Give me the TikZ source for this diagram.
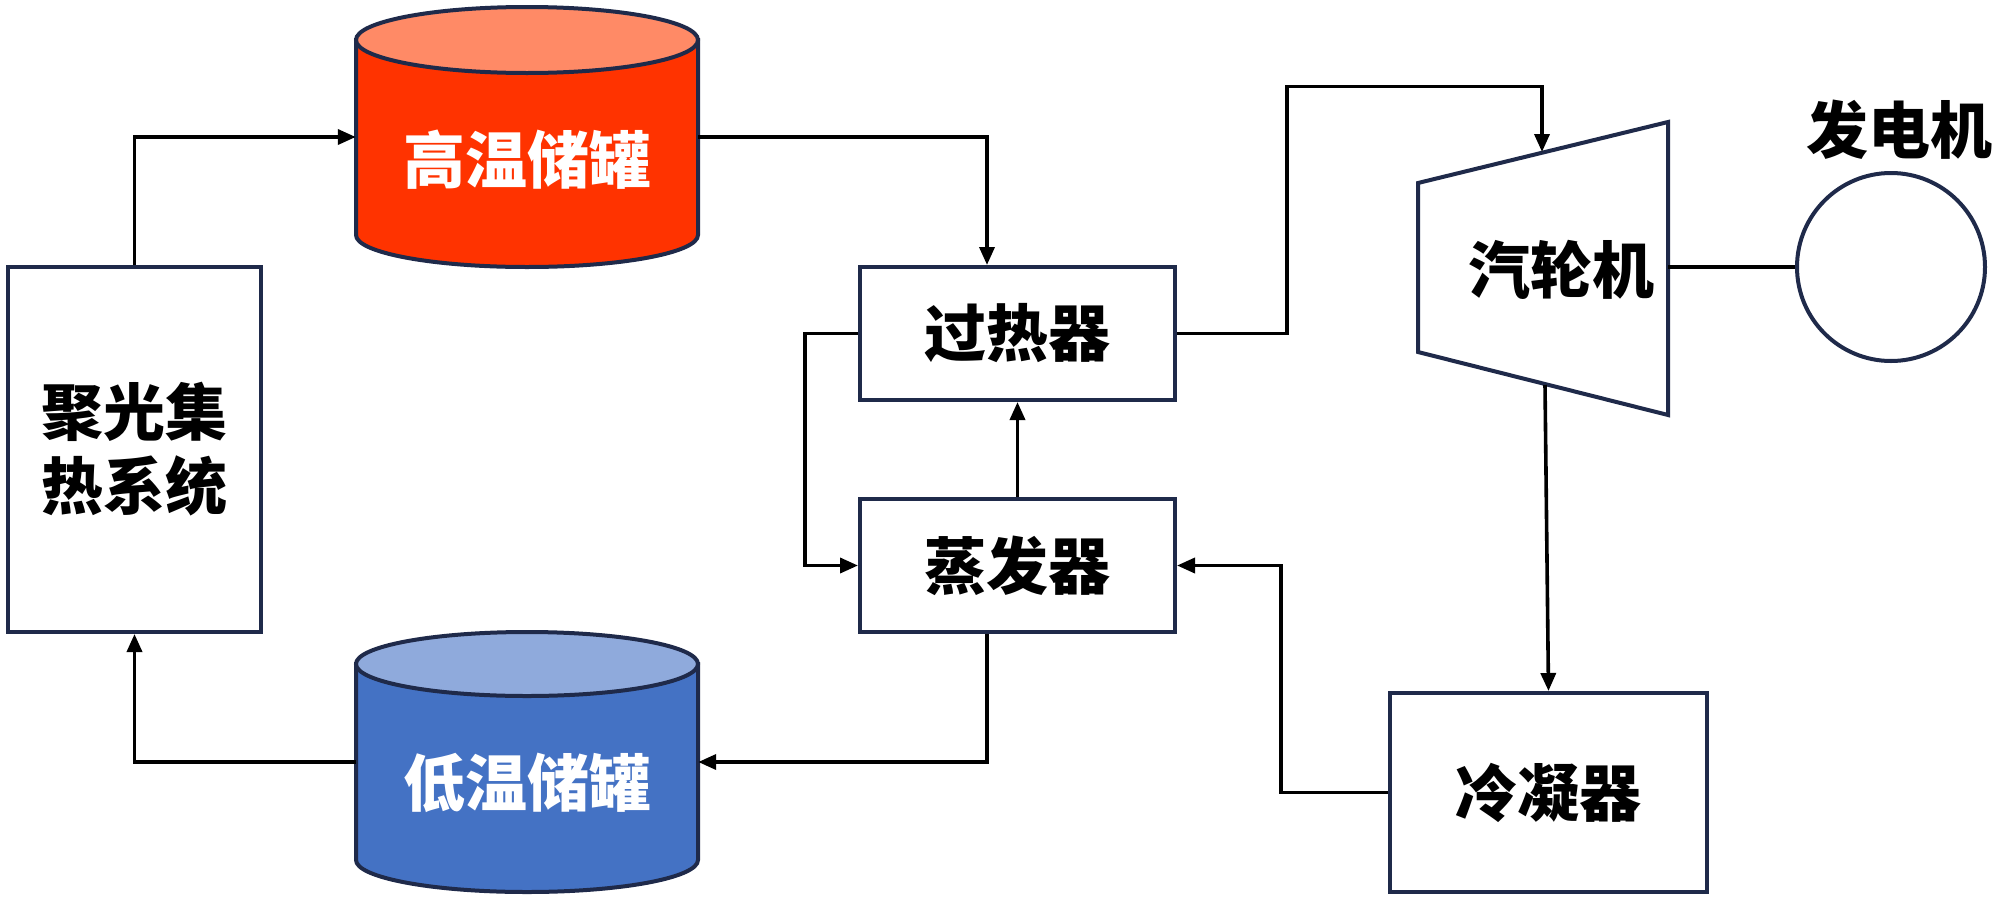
\documentclass[tikz,border=0pt]{standalone}
\usepackage{fontspec}
\setmainfont{Noto Sans CJK SC}
\usetikzlibrary{arrows.meta}
\definecolor{navy}{HTML}{1F2A4A}
\definecolor{httop}{HTML}{FF8A66}
\definecolor{htbody}{HTML}{FF3300}
\definecolor{lttop}{HTML}{8FAADC}
\definecolor{ltbody}{HTML}{4472C4}
\tikzset{
  box/.style={draw=navy, line width=4pt, fill=white, rectangle, inner sep=0pt,
    font=\fontsize{62}{74}\selectfont\bfseries, align=center},
  tankarea/.style={rectangle, minimum width=342pt, minimum height=260pt, inner sep=0pt},
  tanklabel/.style={text=white, font=\fontsize{62}{74}\selectfont\bfseries, inner sep=0pt},
  plainlabel/.style={text=black, font=\fontsize{62}{74}\selectfont\bfseries, inner sep=0pt},
  conn/.style={line width=3.6pt, draw=black},
  arr/.style={conn, -{Triangle[length=18pt,width=15pt]}},
  tankline/.style={draw=navy, line width=4pt},
}
\begin{document}
\begin{tikzpicture}[x=1pt,y=-1pt]
\useasboundingbox (0,0) rectangle (2000,900);
% ---- tanks ----
\path[tankline, fill=htbody] (356,40) -- (356,235) arc[start angle=180,end angle=360,x radius=171pt,y radius=32pt] -- (698,40) -- cycle;
\path[tankline, fill=httop] (527,40) ellipse [x radius=171pt, y radius=33pt];
\path[tankline, fill=ltbody] (356,664) -- (356,860) arc[start angle=180,end angle=360,x radius=171pt,y radius=32pt] -- (698,664) -- cycle;
\path[tankline, fill=lttop] (527,664) ellipse [x radius=171pt, y radius=32pt];
\node[tankarea] (ht) at (527,137) {};
\node[tankarea] (lt) at (527,762) {};
\node[tanklabel] (htl) at (527,160) {高温储罐};
\node[tanklabel] (ltl) at (527,783) {低温储罐};
% ---- boxes ----
\node[box, minimum width=253pt, minimum height=365pt] (col) at (134.5,449.5) {聚光集\\热系统};
\node[box, minimum width=315pt, minimum height=133pt] (sh) at (1017.5,333.5) {过热器};
\node[box, minimum width=315pt, minimum height=133pt] (ev) at (1017.5,565.5) {蒸发器};
\node[box, minimum width=317pt, minimum height=199pt] (cd) at (1548.5,792.5) {冷凝器};
% ---- turbine ----
\path[draw=navy, line width=4pt, fill=white] (1418,183) -- (1668,122) -- (1668,415) -- (1418,352) -- cycle;
\node[plainlabel] (tb) at (1561,270) {汽轮机};
\coordinate (tin) at (1542,152);
\coordinate (tout) at (1668,267);
\coordinate (tbot) at (1545,385);
% ---- generator ----
\node[draw=navy, line width=4pt, circle, minimum size=188pt, inner sep=0pt] (gen) at (1891,267) {};
\node[plainlabel] (genl) at (1899,130) {发电机};
% ---- connectors ----
\draw[arr] (col.north) |- (ht.west);
\draw[arr] (ht.east) -| ([xshift=-30.5pt]sh.north);
\draw[arr] (sh.west) -- ++(-53,0) |- (ev.west);
\draw[arr] (ev.north) -- (sh.south);
\draw[arr] ([xshift=-30.5pt]ev.south) |- (lt.east);
\draw[arr] (lt.west) -| (col.south);
\draw[arr] (sh.east) -- ++(110,0) -- ++(0,-247) -| (tin);
\draw[conn] (tout) -- (gen.west);
\draw[arr] (tbot) -- (cd.north);
\draw[arr] (cd.west) -- ++(-107,0) |- (ev.east);
\end{tikzpicture}
\end{document}
